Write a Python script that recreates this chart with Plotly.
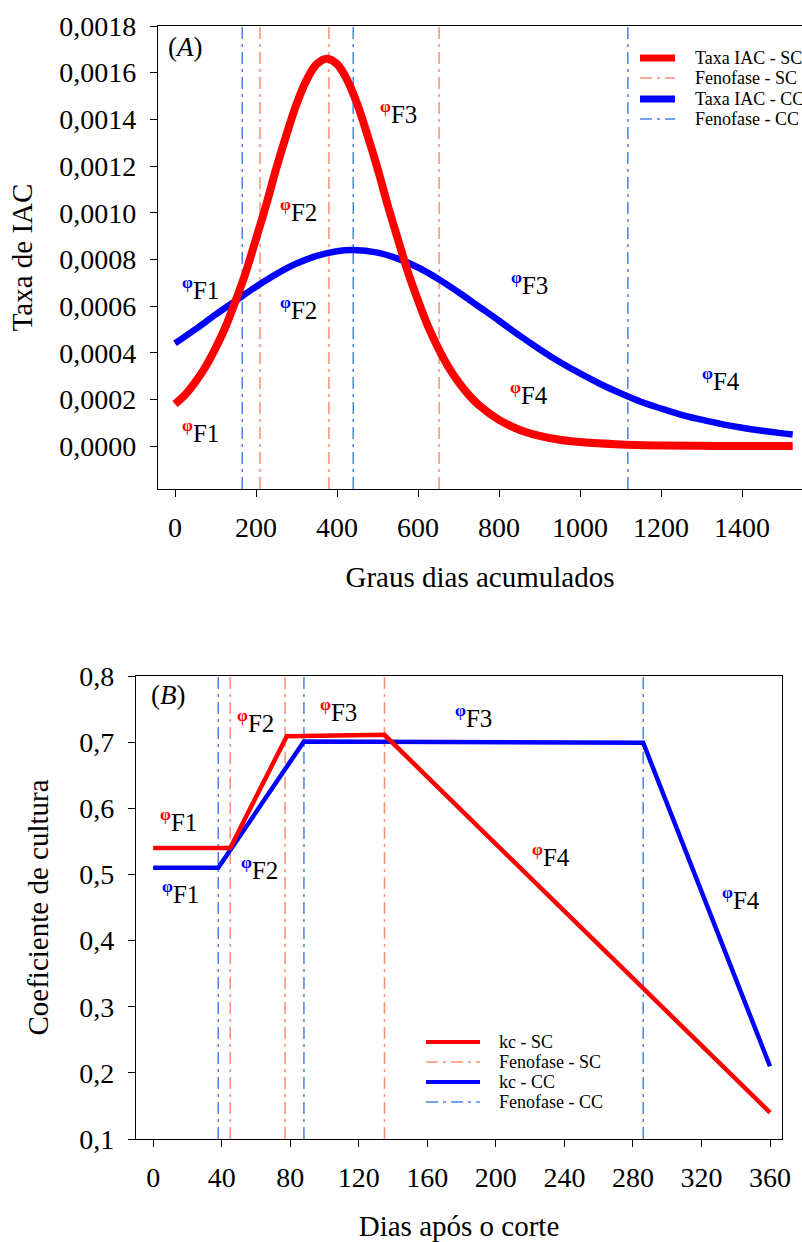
import plotly.graph_objects as go

# ---------------- Panel A data ----------------
gda_sc = [0, 25, 50, 75, 100, 125, 150, 175, 200, 225, 250, 275, 300, 325, 350, 375,
          400, 425, 450, 475, 500, 525, 550, 575, 600, 625, 650, 675, 700, 725, 750,
          800, 850, 900, 950, 1000, 1100, 1200, 1300, 1400, 1525]
taxa_sc = [0.000180, 0.000220, 0.000274, 0.000339, 0.000419, 0.000512, 0.000624, 0.000746,
           0.000888, 0.001033, 0.001190, 0.001333, 0.001465, 0.001569, 0.001637, 0.001660,
           0.001637, 0.001569, 0.001465, 0.001333, 0.001190, 0.001033, 0.000888, 0.000746,
           0.000624, 0.000512, 0.000419, 0.000339, 0.000274, 0.000220, 0.000176,
           0.000112, 0.000070, 0.000044, 0.000027, 0.000017, 0.0000067, 0.0000026,
           0.0000010, 0.0000004, 0.0000001]

gda_cc = [0, 50, 100, 150, 200, 250, 300, 350, 400, 440, 500, 550, 600, 650, 700, 750,
          800, 850, 900, 950, 1000, 1050, 1100, 1150, 1200, 1250, 1300, 1350, 1400, 1450,
          1500, 1525]
taxa_cc = [0.000440, 0.000500, 0.000563, 0.000623, 0.000683, 0.000737, 0.000782, 0.000815,
           0.000835, 0.000840, 0.000829, 0.000803, 0.000765, 0.000716, 0.000659, 0.000598,
           0.000537, 0.000474, 0.000415, 0.000360, 0.000311, 0.000266, 0.000226, 0.000190,
           0.000161, 0.000134, 0.000113, 0.000094, 0.0000785, 0.0000655, 0.0000543,
           0.0000495]

fenofase_sc_A = [210, 380, 652]
fenofase_cc_A = [166, 440, 1118]

xticks_A = [0, 200, 400, 600, 800, 1000, 1200, 1400]
yticks_A = [0.0, 0.0002, 0.0004, 0.0006, 0.0008, 0.0010, 0.0012, 0.0014, 0.0016, 0.0018]

# ---------------- Panel B data ----------------
dias_sc = [0, 45, 78, 135, 360]
kc_sc = [0.54, 0.54, 0.709, 0.711, 0.14]
dias_cc = [0, 38, 88, 286, 360]
kc_cc = [0.51, 0.51, 0.701, 0.699, 0.21]

fenofase_sc_B = [45, 77, 135]
fenofase_cc_B = [38, 88, 286]

xticks_B = [0, 40, 80, 120, 160, 200, 240, 280, 320, 360]
yticks_B = [0.1, 0.2, 0.3, 0.4, 0.5, 0.6, 0.7, 0.8]

# phase labels: (text, colour, x, y)
labels_A = [("F1", "#FF0000", 64, 0.000064), ("F1", "#0000FF", 64, 0.000677),
            ("F2", "#FF0000", 306, 0.00101), ("F2", "#0000FF", 306, 0.00059),
            ("F3", "#FF0000", 553, 0.00143), ("F3", "#0000FF", 874, 0.00070),
            ("F4", "#FF0000", 874, 0.000227), ("F4", "#0000FF", 1348, 0.000287)]
labels_B = [("F1", "#FF0000", 15, 0.582), ("F1", "#0000FF", 16, 0.473),
            ("F2", "#FF0000", 60, 0.732), ("F2", "#0000FF", 62, 0.510),
            ("F3", "#FF0000", 108, 0.749), ("F3", "#0000FF", 187, 0.740),
            ("F4", "#FF0000", 232, 0.529), ("F4", "#0000FF", 343, 0.464)]

# ---------------- styling ----------------
W, H = 802, 1242
FONT = "Liberation Serif"
RED, BLUE = "#FF0000", "#0000FF"
SALMON, LBLUE = "#F98F6F", "#4A82EE"
DASH = "12px,5px,3px,5px"

rangeA_x = [-42, 1548]
rangeA_y = [-0.000184, 0.0018]
rangeB_x = [-10, 367]
rangeB_y = [0.1, 0.8]


def vlines(vals, lo, hi):
    xs, ys = [], []
    for v in vals:
        xs += [v, v, None]
        ys += [lo, hi, None]
    return xs, ys


fig = go.Figure()

# Panel A
xs, ys = vlines(fenofase_sc_A, *rangeA_y)
fig.add_trace(go.Scatter(x=xs, y=ys, mode="lines", name="Fenofase - SC",
                         line=dict(color=SALMON, width=1.5, dash=DASH), xaxis="x", yaxis="y"))
xs, ys = vlines(fenofase_cc_A, *rangeA_y)
fig.add_trace(go.Scatter(x=xs, y=ys, mode="lines", name="Fenofase - CC",
                         line=dict(color=LBLUE, width=1.5, dash=DASH), xaxis="x", yaxis="y"))
fig.add_trace(go.Scatter(x=gda_cc, y=taxa_cc, mode="lines", name="Taxa IAC - CC",
                         line=dict(color=BLUE, width=6.5, shape="spline"), xaxis="x", yaxis="y"))
fig.add_trace(go.Scatter(x=gda_sc, y=taxa_sc, mode="lines", name="Taxa IAC - SC",
                         line=dict(color=RED, width=8, shape="spline"), xaxis="x", yaxis="y"))

# Panel B
xs, ys = vlines(fenofase_sc_B, *rangeB_y)
fig.add_trace(go.Scatter(x=xs, y=ys, mode="lines", name="Fenofase - SC",
                         line=dict(color=SALMON, width=1.5, dash=DASH), xaxis="x2", yaxis="y2"))
xs, ys = vlines(fenofase_cc_B, *rangeB_y)
fig.add_trace(go.Scatter(x=xs, y=ys, mode="lines", name="Fenofase - CC",
                         line=dict(color=LBLUE, width=1.5, dash=DASH), xaxis="x2", yaxis="y2"))
fig.add_trace(go.Scatter(x=dias_cc, y=kc_cc, mode="lines", name="kc - CC",
                         line=dict(color=BLUE, width=4.5), xaxis="x2", yaxis="y2"))
fig.add_trace(go.Scatter(x=dias_sc, y=kc_sc, mode="lines", name="kc - SC",
                         line=dict(color=RED, width=4.5), xaxis="x2", yaxis="y2"))

ax_common = dict(showline=True, linecolor="black", linewidth=1.2, ticks="outside",
                 ticklen=7, tickwidth=1.2, tickcolor="black", showgrid=False, zeroline=False,
                 automargin=False,
                 tickfont=dict(family=FONT, size=28, color="black"))

fig.update_layout(
    width=W, height=H, margin=dict(l=0, r=0, t=0, b=0, pad=0, autoexpand=False),
    paper_bgcolor="white", plot_bgcolor="white", showlegend=False,
    separators=",.",
    font=dict(family=FONT, color="black"),
    xaxis=dict(ax_common, domain=[158 / W, 1.0], range=rangeA_x, tickvals=xticks_A,
               mirror=True, anchor="y", ticklabelstandoff=6,
               title=dict(text="Graus dias acumulados", font=dict(family=FONT, size=29), standoff=24)),
    yaxis=dict(ax_common, domain=[1 - 489 / H, 1 - 26 / H], range=rangeA_y, tickvals=yticks_A,
               tickformat=".4f", anchor="x", ticklabelstandoff=8,
               title=dict(text="Taxa de IAC", font=dict(family=FONT, size=29), standoff=18)),
    xaxis2=dict(ax_common, domain=[136 / W, 782 / W], range=rangeB_x, tickvals=xticks_B,
                mirror=True, anchor="y2", ticklabelstandoff=6,
                title=dict(text="Dias após o corte", font=dict(family=FONT, size=29), standoff=24)),
    yaxis2=dict(ax_common, domain=[1 - 1139 / H, 1 - 676 / H], range=rangeB_y, tickvals=yticks_B,
                tickformat=".1f", mirror=True, anchor="x2", ticklabelstandoff=8,
                title=dict(text="Coeficiente de cultura", font=dict(family=FONT, size=29), standoff=22)),
)


def phase_text(txt, col):
    return f"<sup><b><span style='color:{col}'>φ</span></b></sup>{txt}"


ann = []
for txt, col, x, y in labels_A:
    ann.append(dict(x=x, y=y, xref="x", yref="y", showarrow=False, text=phase_text(txt, col),
                    font=dict(family=FONT, size=25, color="black")))
for txt, col, x, y in labels_B:
    ann.append(dict(x=x, y=y, xref="x2", yref="y2", showarrow=False, text=phase_text(txt, col),
                    font=dict(family=FONT, size=25, color="black")))
ann.append(dict(x=27, y=0.00171, xref="x", yref="y", showarrow=False, text="(<i>A</i>)",
                font=dict(family=FONT, size=27, color="black")))
ann.append(dict(x=8.8, y=0.771, xref="x2", yref="y2", showarrow=False, text="(<i>B</i>)",
                font=dict(family=FONT, size=27, color="black")))

# manual legends (pixel rows)
shapes = []


def legend(rows, x0, x1, xt):
    for (name, col, width, dash, ypx) in rows:
        yp = 1 - ypx / H
        shapes.append(dict(type="line", xref="paper", yref="paper", x0=x0 / W, x1=x1 / W,
                           y0=yp, y1=yp, line=dict(color=col, width=width, dash=dash)))
        ann.append(dict(x=xt / W, y=yp, xref="paper", yref="paper", xanchor="left",
                        yanchor="middle", showarrow=False, text=name,
                        font=dict(family=FONT, size=18, color="black")))


legend([("Taxa IAC - SC", RED, 7, "solid", 58), ("Fenofase - SC", SALMON, 1.5, DASH, 78),
        ("Taxa IAC - CC", BLUE, 7, "solid", 99), ("Fenofase - CC", LBLUE, 1.5, DASH, 119)],
       640, 675, 693)
legend([("kc - SC", RED, 4, "solid", 1042), ("Fenofase - SC", SALMON, 1.5, DASH, 1062),
        ("kc - CC", BLUE, 4, "solid", 1082), ("Fenofase - CC", LBLUE, 1.5, DASH, 1102)],
       426, 480, 497)

fig.update_layout(annotations=ann, shapes=shapes)
fig.write_html("out.html")
